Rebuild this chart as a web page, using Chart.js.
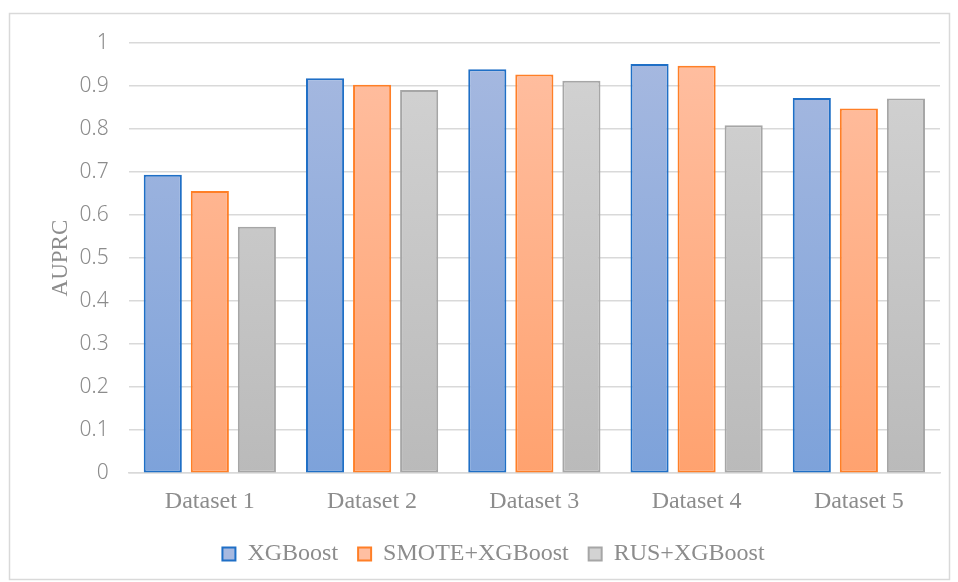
<!DOCTYPE html>
<html>
<head>
<meta charset="utf-8">
<script src="https://cdn.jsdelivr.net/npm/chart.js@4/dist/chart.umd.min.js"></script>
<style>
  html, body { margin: 0; padding: 0; background: #fff; }
  #wrap { position: relative; width: 958px; height: 582px; }
</style>
</head>
<body>
<div id="wrap"><canvas id="c" width="958" height="582"></canvas></div>
<script>
const categories = ['Dataset 1', 'Dataset 2', 'Dataset 3', 'Dataset 4', 'Dataset 5'];
const seriesNames = ['XGBoost', 'SMOTE+XGBoost', 'RUS+XGBoost'];
const xgboost = [0.694, 0.918, 0.939, 0.951, 0.872];
const smoteXgboost = [0.656, 0.903, 0.927, 0.947, 0.848];
const rusXgboost = [0.573, 0.891, 0.912, 0.809, 0.871];
const yTicks = [0, 0.1, 0.2, 0.3, 0.4, 0.5, 0.6, 0.7, 0.8, 0.9, 1];

const palettes = [
  { top: '#a7b9e0', bottom: '#7da2da', border: '#1f6fc6' },
  { top: '#ffbfa2', bottom: '#ffa26f', border: '#ff7f27' },
  { top: '#d3d3d3', bottom: '#bababa', border: '#a6a6a6' }
];

function gradientFor(p) {
  return (ctx) => {
    const area = ctx.chart.chartArea;
    if (!area) return p.top;
    const g = ctx.chart.ctx.createLinearGradient(0, area.top, 0, area.bottom);
    g.addColorStop(0, p.top);
    g.addColorStop(1, p.bottom);
    return g;
  };
}

const frame = {
  id: 'frame',
  beforeDraw(chart) {
    const c = chart.ctx;
    c.save();
    c.fillStyle = '#fff';
    c.fillRect(0, 0, chart.width, chart.height);
    c.strokeStyle = '#d9d9d9';
    c.lineWidth = 1.5;
    c.strokeRect(9.5, 13.5, 940, 566);
    c.restore();
  }
};

const seriesValues = [xgboost, smoteXgboost, rusXgboost];
const serif = '"Liberation Serif", "Times New Roman", serif';

new Chart(document.getElementById('c'), {
  type: 'bar',
  data: {
    labels: categories,
    datasets: seriesNames.map((name, i) => ({
      label: name,
      data: seriesValues[i],
      backgroundColor: gradientFor(palettes[i]),
      borderColor: palettes[i].border,
      borderWidth: 2,
      borderSkipped: false,
      categoryPercentage: 0.87,
      barPercentage: 0.81
    }))
  },
  options: {
    responsive: false,
    animation: false,
    devicePixelRatio: 1,
    layout: { padding: { left: 47, right: 18, top: 43, bottom: 6 } },
    scales: {
      x: {
        grid: { display: false },
        border: { display: true, color: '#d9d9d9', width: 1.5 },
        ticks: {
          color: '#8c8c8c',
          font: { family: serif, size: 24 },
          padding: 6
        }
      },
      y: {
        min: 0,
        max: 1,
        afterBuildTicks(axis) { axis.ticks = yTicks.map(v => ({ value: v })); },
        grid: { color: '#d9d9d9', lineWidth: 1.5, drawTicks: false },
        border: { display: false },
        ticks: {
          color: '#8c8c8c',
          font: { family: '"Noto Sans", sans-serif', size: 21, weight: '300' },
          padding: 20,
          callback: (v) => String(Math.round(v * 10) / 10)
        },
        title: {
          display: true,
          text: 'AUPRC',
          color: '#8c8c8c',
          font: { family: serif, size: 23 },
          padding: { top: 0, bottom: -15 }
        }
      }
    },
    plugins: {
      legend: {
        position: 'bottom',
        labels: {
          color: '#8c8c8c',
          font: { family: serif, size: 24 },
          boxWidth: 13,
          boxHeight: 13,
          padding: 20,
          generateLabels(chart) {
            return chart.data.datasets.map((ds, i) => ({
              text: ds.label,
              fillStyle: palettes[i].top,
              strokeStyle: palettes[i].border,
              lineWidth: 2,
              fontColor: '#8c8c8c',
              datasetIndex: i
            }));
          }
        }
      },
      tooltip: { enabled: false }
    }
  },
  plugins: [frame]
});
</script>
</body>
</html>
